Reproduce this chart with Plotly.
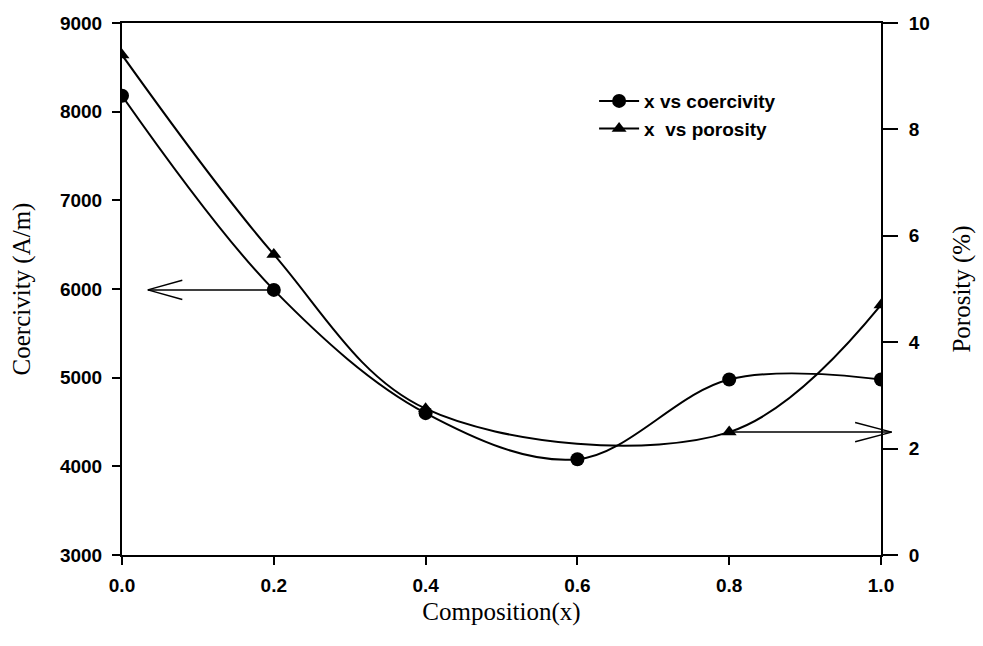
import plotly.graph_objects as go

# Data
x_coer = [0.0, 0.2, 0.4, 0.6, 0.8, 1.0]
coercivity = [8180, 5990, 4600, 4080, 4980, 4980]
x_por = [0.0, 0.2, 0.4, 0.8, 1.0]
porosity = [9.4, 5.65, 2.75, 2.31, 4.7]

x_ticks = [0.0, 0.2, 0.4, 0.6, 0.8, 1.0]
x_ticktext = ["0.0", "0.2", "0.4", "0.6", "0.8", "1.0"]
y1_ticks = [3000, 4000, 5000, 6000, 7000, 8000, 9000]
y2_ticks = [0, 2, 4, 6, 8, 10]

tick_font = dict(family="Liberation Sans, Arial", size=19, color="black", weight="bold")
title_font = dict(family="Liberation Serif, Times New Roman", size=25, color="black")

fig = go.Figure()
fig.add_trace(go.Scatter(
    x=x_coer, y=coercivity, name="x vs coercivity", mode="lines+markers",
    line=dict(color="black", width=2, shape="spline", smoothing=1.0),
    marker=dict(symbol="circle", size=14, color="black"),
    yaxis="y"))
fig.add_trace(go.Scatter(
    x=x_por, y=porosity, name="x  vs porosity", mode="lines+markers",
    line=dict(color="black", width=2, shape="spline", smoothing=1.0),
    marker=dict(symbol="triangle-up", size=13, color="black"),
    yaxis="y2"))

fig.update_layout(
    width=983, height=646,
    margin=dict(l=122, r=99, t=23, b=91),
    paper_bgcolor="white", plot_bgcolor="white",
    showlegend=True,
    legend=dict(x=0.622, y=0.889, xanchor="left", yanchor="top",
                font=dict(family="Liberation Sans, Arial", size=19, color="black", weight="bold"),
                bgcolor="rgba(0,0,0,0)", tracegroupgap=0, itemwidth=40),
    xaxis=dict(range=[0, 1.0], tickvals=x_ticks, ticktext=x_ticktext,
               showline=True, linecolor="black", linewidth=2, mirror=True,
               ticks="outside", ticklen=8, tickwidth=2, tickcolor="black",
               ticklabelstandoff=4,
               showgrid=False, zeroline=False, tickfont=tick_font,
               title=dict(text="Composition(x)", font=title_font, standoff=8)),
    yaxis=dict(range=[3000, 9000], tickvals=y1_ticks,
               showline=True, linecolor="black", linewidth=2,
               ticks="outside", ticklen=8, tickwidth=2, tickcolor="black",
               ticklabelstandoff=6,
               showgrid=False, zeroline=False, tickfont=tick_font,
               title=dict(text="Coercivity (A/m)", font=title_font, standoff=22)),
    yaxis2=dict(range=[0, 10], tickvals=y2_ticks, overlaying="y", side="right",
                showline=True, linecolor="black", linewidth=2,
                ticks="outside", ticklen=15, tickwidth=2, tickcolor="black",
                ticklabelstandoff=7,
                showgrid=False, zeroline=False, tickfont=tick_font,
                title=dict(text="Porosity (%)", font=title_font, standoff=24)),
)

arrow = dict(text="", showarrow=True, arrowhead=0, arrowwidth=1.5, arrowcolor="black",
             standoff=0, startstandoff=0)
# left-pointing arrow at coercivity of the x=0.2 point
fig.add_annotation(x=0.034, y=coercivity[1], xref="x", yref="y",
                   ax=x_coer[1], ay=coercivity[1], axref="x", ayref="y", **arrow)
fig.add_annotation(x=0.034, y=coercivity[1], xref="x", yref="y", ax=36, ay=-10, **arrow)
fig.add_annotation(x=0.034, y=coercivity[1], xref="x", yref="y", ax=36, ay=10, **arrow)
# right-pointing arrow at porosity level of the x=0.8 point
tip_x = 1.014
fig.add_annotation(x=tip_x, y=porosity[3], xref="paper", yref="y2",
                   ax=-(tip_x - x_por[3]) * 762, ay=0, **arrow)
fig.add_annotation(x=tip_x, y=porosity[3], xref="paper", yref="y2", ax=-38, ay=-10, **arrow)
fig.add_annotation(x=tip_x, y=porosity[3], xref="paper", yref="y2", ax=-38, ay=10, **arrow)

fig.write_html("out.html")
